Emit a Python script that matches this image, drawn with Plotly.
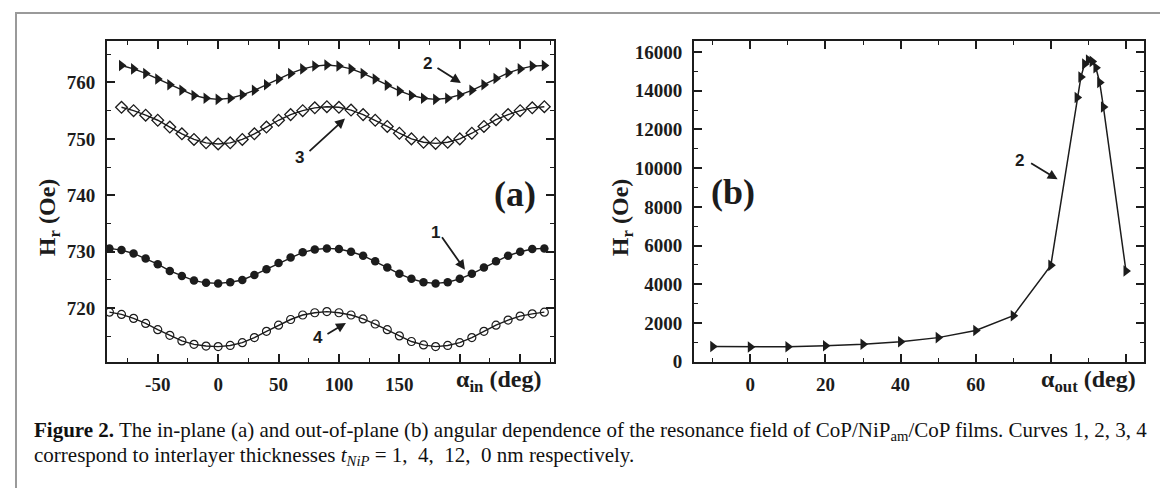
import plotly.graph_objects as go

# ---------------- data ----------------
# panel (a): in-plane angle (deg)
ang_a_14 = list(range(-90, 271, 10))   # curves 1 and 4
ang_a_23 = list(range(-80, 271, 10))   # curves 2 and 3

hr_curve1 = [730.6, 730.3, 729.7, 728.8, 727.8, 726.6, 725.7, 724.9, 724.5, 724.4,
             724.6, 725.0, 725.9, 726.9, 728.0, 729.0, 729.9, 730.4, 730.6, 730.5,
             730.0, 729.3, 728.3, 727.2, 726.1, 725.2, 724.6, 724.4, 724.6, 725.2,
             726.1, 727.2, 728.3, 729.3, 730.0, 730.5, 730.6]
hr_curve4 = [719.3, 718.9, 718.2, 717.3, 716.2, 715.2, 714.2, 713.6, 713.3, 713.2,
             713.4, 713.9, 714.8, 715.9, 717.0, 718.0, 718.8, 719.2, 719.4, 719.2,
             718.8, 718.1, 717.2, 716.2, 715.1, 714.1, 713.5, 713.2, 713.4, 713.9,
             714.8, 715.9, 717.0, 717.9, 718.6, 719.0, 719.3]
hr_curve2 = [763.0, 762.4, 761.6, 760.6, 759.6, 758.6, 757.7, 757.2, 757.0, 757.2,
             757.8, 758.6, 759.6, 760.6, 761.6, 762.4, 762.9, 763.1, 762.9, 762.4,
             761.6, 760.6, 759.5, 758.5, 757.7, 757.2, 757.0, 757.2, 757.8, 758.6,
             759.6, 760.7, 761.7, 762.4, 762.9, 763.0]
hr_curve3 = [755.6, 755.0, 754.2, 753.3, 752.1, 750.9, 749.9, 749.3, 749.1, 749.3,
             749.9, 750.9, 752.1, 753.3, 754.3, 755.0, 755.5, 755.7, 755.6, 755.1,
             754.3, 753.3, 752.2, 751.0, 750.0, 749.4, 749.2, 749.4, 750.0, 751.0,
             752.2, 753.4, 754.3, 755.0, 755.5, 755.7]

# panel (b): out-of-plane angle (deg), curve 2
ang_b = [-10, 0, 10, 20, 30, 40, 50, 60, 70, 80, 87, 88, 89, 90, 91, 92, 93, 94, 100]
hr_b = [790, 770, 780, 830, 910, 1040, 1250, 1620, 2380, 4980,
        13650, 14700, 15380, 15580, 15510, 15180, 14420, 13150, 4690]

xa_ticks = [-50, 0, 50, 100, 150, 200, 250]
xa_text = ['-50', '0', '50', '100', '150', '', '']
xb_ticks = [0, 20, 40, 60, 80, 100]
xb_text = ['0', '20', '40', '60', '', '']

# ---------------- figure ----------------
W, H = 1168, 488
INK = '#1c1c1c'
SERIF = 'Liberation Serif'
SANS = 'Liberation Sans'

fig = go.Figure()

line_a = dict(color=INK, width=1.4)
fig.add_trace(go.Scatter(x=ang_a_23, y=hr_curve2, mode='lines+markers', line=line_a,
                         marker=dict(symbol='triangle-right', size=10, color=INK),
                         xaxis='x', yaxis='y'))
fig.add_trace(go.Scatter(x=ang_a_23, y=hr_curve3, mode='lines+markers', line=line_a,
                         marker=dict(symbol='diamond-open', size=9, color=INK,
                                     line=dict(width=1.3)),
                         xaxis='x', yaxis='y'))
fig.add_trace(go.Scatter(x=ang_a_14, y=hr_curve1, mode='lines+markers', line=line_a,
                         marker=dict(symbol='circle', size=8.5, color=INK),
                         xaxis='x', yaxis='y'))
fig.add_trace(go.Scatter(x=ang_a_14, y=hr_curve4, mode='lines+markers', line=line_a,
                         marker=dict(symbol='circle-open', size=8, color=INK,
                                     line=dict(width=1.2)),
                         xaxis='x', yaxis='y'))
fig.add_trace(go.Scatter(x=ang_b, y=hr_b, mode='lines+markers',
                         line=dict(color=INK, width=1.5),
                         marker=dict(symbol='triangle-right', size=10, color=INK),
                         xaxis='x2', yaxis='y2'))

tickfont = dict(family=SERIF, size=19, color=INK, weight='bold')


def ax_common(**kw):
    d = dict(showline=True, linecolor=INK, linewidth=2, mirror='allticks',
             ticks='inside', ticklen=8, tickwidth=1.6, tickcolor=INK,
             showgrid=False, zeroline=False, tickfont=tickfont,
             ticklabelstandoff=6)
    d.update(kw)
    return d


ydom = [1 - 362 / H, 1 - 34 / H]
minor_style = dict(ticks='inside', ticklen=4, tickwidth=1.4, tickcolor=INK,
                   tickmode='linear')

fig.update_layout(
    width=W, height=H,
    margin=dict(l=0, r=0, t=0, b=0),
    paper_bgcolor='white', plot_bgcolor='white',
    showlegend=False,
    xaxis=ax_common(domain=[99 / W, 546 / W], range=[-92, 278],
                    tickmode='array', tickvals=xa_ticks, ticktext=xa_text,
                    minor=dict(minor_style, tick0=0, dtick=25),
                    ticklabelstandoff=4, anchor='y'),
    yaxis=ax_common(domain=ydom, range=[710.5, 767.3], tickmode='linear',
                    tick0=720, dtick=10,
                    minor=dict(minor_style, tick0=720, dtick=5),
                    anchor='x'),
    xaxis2=ax_common(domain=[686 / W, 1136 / W], range=[-15, 104.8],
                     tickmode='array', tickvals=xb_ticks, ticktext=xb_text,
                     minor=dict(minor_style, tick0=0, dtick=10),
                     ticklabelstandoff=4, anchor='y2'),
    yaxis2=ax_common(domain=ydom, range=[0, 16550], tickmode='linear',
                     tick0=0, dtick=2000, tickformat='d',
                     minor=dict(minor_style, tick0=0, dtick=1000),
                     anchor='x2'),
)

ann = []


def txt(x, y, text, size, family=SERIF, xref='paper', yref='paper', angle=0,
        xanchor='center', yanchor='middle', weight='bold'):
    ann.append(dict(x=x, y=y, xref=xref, yref=yref, text=text, showarrow=False,
                    textangle=angle, xanchor=xanchor, yanchor=yanchor,
                    font=dict(family=family, size=size, color=INK, weight=weight)))


def arrow(x, y, ax, ay, xref, yref):
    ann.append(dict(x=x, y=y, xref=xref, yref=yref, ax=ax, ay=ay, text='',
                    showarrow=True, arrowhead=2, arrowsize=1.1, arrowwidth=1.8,
                    arrowcolor=INK))


# axis titles
txt(41 / W, 1 - 215 / H, 'H<sub>r</sub> (Oe)', 24, angle=-90)
txt(614 / W, 1 - 215 / H, 'H<sub>r</sub> (Oe)', 24, angle=-90)
txt(490 / W, 1 - 382 / H, 'α<sub>in</sub> (deg)', 24)
txt(1080 / W, 1 - 382 / H, 'α<sub>out</sub> (deg)', 24)

# panel labels
txt(246, 740.3, '(a)', 36, xref='x', yref='y')
txt(-4.5, 8770, '(b)', 36, xref='x2', yref='y2')

# curve numbers and arrows, panel (a)
txt(172.9, 763.3, '2', 17, family=SANS, xref='x', yref='y')
arrow(201, 759.9, -25, -16, 'x', 'y')
txt(67.7, 746.7, '3', 17, family=SANS, xref='x', yref='y')
arrow(105, 753.6, -37, 34, 'x', 'y')
txt(179.5, 733.4, '1', 17, family=SANS, xref='x', yref='y')
arrow(204.3, 726.8, -24, -34, 'x', 'y')
txt(82.6, 714.8, '4', 17, family=SANS, xref='x', yref='y')
arrow(105.8, 717.4, -20, 12, 'x', 'y')

# panel (b)
txt(71.7, 10413, '2', 17, family=SANS, xref='x2', yref='y2')
arrow(81.8, 9420, -28, -17, 'x2', 'y2')

# caption
cap_font = dict(family=SERIF, size=21, color='#111')
ann.append(dict(x=24 / W, y=1 - 433 / H, xref='paper', yref='paper', showarrow=False,
                xanchor='left', yanchor='middle',
                text='<b>Figure 2.</b> The in-plane (a) and out-of-plane (b) angular dependence '
                     'of the resonance field of CoP/NiP<sub>am</sub>/CoP films. Curves 1, 2, 3, 4',
                font=cap_font))
ann.append(dict(x=24 / W, y=1 - 458 / H, xref='paper', yref='paper', showarrow=False,
                xanchor='left', yanchor='middle',
                text='correspond to interlayer thicknesses <i>t<sub>NiP</sub></i> = 1,  4,  12,  0 nm respectively.',
                font=cap_font))

fig.update_layout(annotations=ann)

# outer frame of the figure
fig.add_shape(type='rect', xref='paper', yref='paper',
              x0=8 / W, x1=1163 / W, y0=1 - 500 / H, y1=1 - 5 / H,
              line=dict(color='#9a9a9a', width=2), fillcolor='rgba(0,0,0,0)')

fig.write_html('out.html')
